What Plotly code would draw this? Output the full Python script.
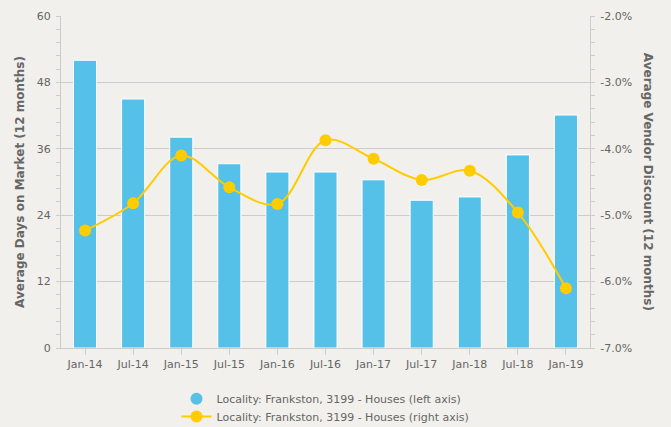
import plotly.graph_objects as go

categories = ["Jan-14", "Jul-14", "Jan-15", "Jul-15", "Jan-16", "Jul-16",
              "Jan-17", "Jul-17", "Jan-18", "Jul-18", "Jan-19"]
days_on_market = [52.0, 45.0, 38.1, 33.3, 31.8, 31.8, 30.4, 26.7, 27.3, 34.9, 42.1]
vendor_discount = [-5.23, -4.82, -4.10, -4.58, -4.83, -3.87, -4.15, -4.47, -4.33, -4.96, -6.10]
left_ticks = [0, 12, 24, 36, 48, 60]
right_tickvals = [-7, -6, -5, -4, -3, -2]
right_ticktext = ["-7.0%", "-6.0%", "-5.0%", "-4.0%", "-3.0%", "-2.0%"]
series_bar = "Locality: Frankston, 3199 - Houses (left axis)"
series_line = "Locality: Frankston, 3199 - Houses (right axis)"

BAR = "#55c0e8"
LINE = "#ffcc00"
GRID = "#cccccc"
TXT = "#666666"
BG = "#f1f0ec"

fig = go.Figure()
fig.add_trace(go.Bar(
    x=categories, y=days_on_market, name=series_bar, width=0.48,
    marker=dict(color=BAR, line=dict(color="white", width=1)),
    showlegend=False, yaxis="y",
))
# legend entry with circle symbol for the bar series
fig.add_trace(go.Scatter(
    x=[None], y=[None], mode="markers", name=series_bar,
    marker=dict(color=BAR, size=12, symbol="circle"), yaxis="y", legend="legend",
))
fig.add_trace(go.Scatter(
    x=categories, y=vendor_discount, name=series_line, yaxis="y2",
    mode="lines+markers", legend="legend2",
    line=dict(color=LINE, width=2, shape="spline", smoothing=1),
    marker=dict(color=LINE, size=12),
))

LEG_X = (176.5 - 61) / 529
fig.update_layout(
    width=671, height=427,
    margin=dict(l=61, r=81, t=16, b=79, autoexpand=False),
    paper_bgcolor=BG, plot_bgcolor=BG,
    font=dict(family="DejaVu Sans", size=11, color=TXT),
    xaxis=dict(
        type="category", showline=True, linecolor=GRID, linewidth=1,
        ticks="outside", tickcolor="#c0d0e0", ticklen=6,
        tickfont=dict(size=11, color=TXT), showgrid=False, automargin=False,
        range=[-0.5, len(categories) - 0.5],
    ),
    yaxis=dict(
        range=[0, 60], tickvals=left_ticks, showgrid=True, gridcolor=GRID, gridwidth=1,
        showline=True, linecolor=GRID, linewidth=1, automargin=False,
        ticks="outside", ticklen=4, tickcolor=GRID, ticklabelstandoff=3,
        minor=dict(dtick=2.4, ticks="outside", ticklen=4, tickcolor=GRID, showgrid=False),
        tickfont=dict(size=11, color=TXT), zeroline=False,
        title=dict(text="<b>Average Days on Market (12 months)</b>",
                   font=dict(size=12, color=TXT), standoff=9),
    ),
    yaxis2=dict(
        range=[-7, -2], overlaying="y", side="right", automargin=False,
        tickvals=right_tickvals, ticktext=right_ticktext,
        showgrid=False, showline=True, linecolor=GRID, linewidth=1,
        ticks="outside", ticklen=4, tickcolor=GRID, ticklabelstandoff=3,
        minor=dict(dtick=0.2, ticks="outside", ticklen=4, tickcolor=GRID, showgrid=False),
        tickfont=dict(size=11, color=TXT), zeroline=False,
    ),
    legend=dict(
        orientation="v", x=LEG_X, xanchor="left", y=-0.109, yanchor="top",
        font=dict(size=11, color=TXT), bgcolor="rgba(0,0,0,0)",
    ),
    legend2=dict(
        orientation="v", x=LEG_X, xanchor="left", y=-0.163, yanchor="top",
        font=dict(size=11, color=TXT), bgcolor="rgba(0,0,0,0)",
    ),
    annotations=[dict(
        text="<b>Average Vendor Discount (12 months)</b>", textangle=90,
        xref="paper", yref="paper", x=1.11, y=0.5, xanchor="center", yanchor="middle",
        showarrow=False, font=dict(size=12, color=TXT),
    )],
)

fig.write_html("out.html", config={"displayModeBar": False},
               post_script="document.body.style.margin='0';document.body.style.overflow='hidden';")
